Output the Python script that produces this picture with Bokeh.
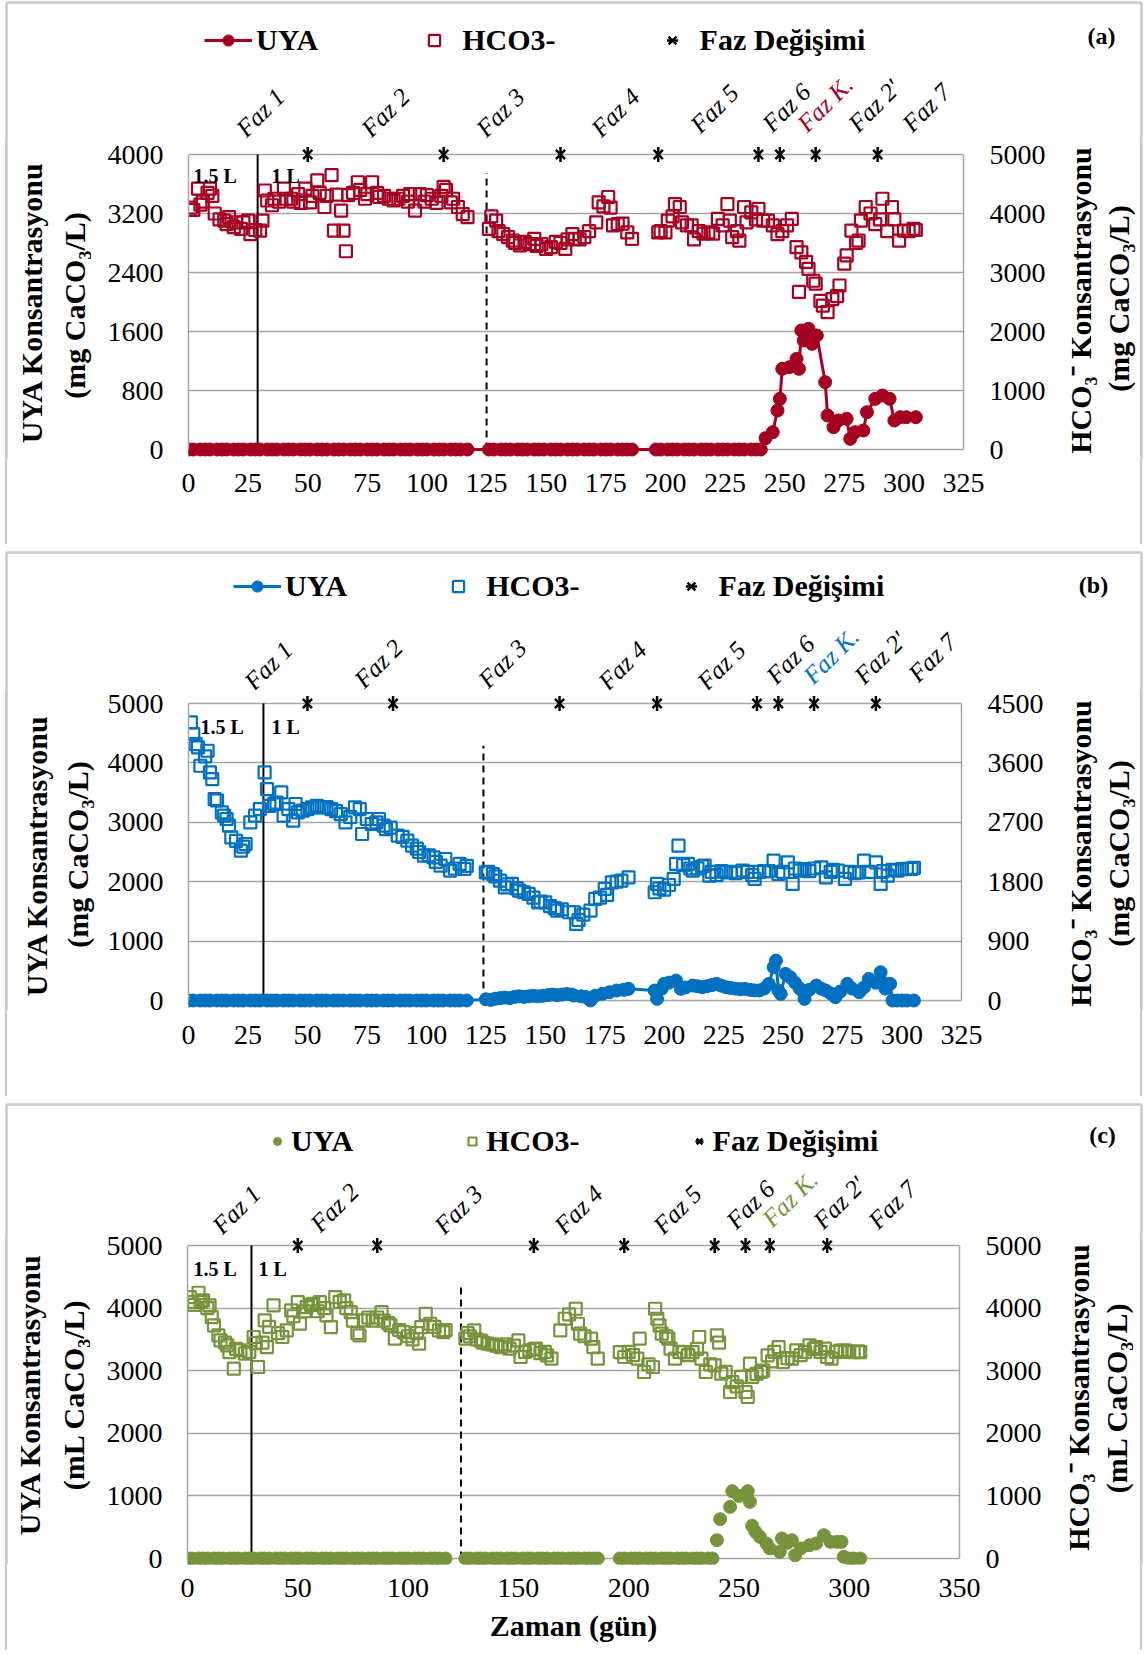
import math
from bokeh.plotting import figure
from bokeh.models import (Range1d, FixedTicker, Label, Legend, LegendItem,
                          ColumnDataSource, LinearAxis)
from bokeh.layouts import column, row
from bokeh.embed import file_html
from bokeh.resources import INLINE

SERIF = "Liberation Serif"

# ---------------------------------------------------------------- panel (a)
a_hco_day = [1, 2, 4, 5, 6, 8, 9, 10, 11, 13, 15, 16, 17, 19, 20, 22, 23, 25, 26, 28,
             30, 31, 32, 33, 35, 36, 38, 40, 41, 43, 44, 46, 47, 49, 51, 52, 54, 55, 57, 58,
             60, 61, 62, 64, 65, 66, 67, 69, 71, 72, 74, 75, 77, 79, 80, 82, 84, 86, 88, 90,
             92, 93, 95, 97, 99, 100, 102, 104, 106, 107, 108, 110, 111, 113, 115, 117,
             126, 127, 129, 130, 132, 134, 136, 137, 139, 141, 143, 145, 146, 148, 150, 152, 154, 156, 158, 159,
             161, 162, 164, 166, 168, 171, 172, 174, 176, 177, 178, 180, 182, 184, 186,
             197, 198, 200, 201, 203, 204, 206, 207, 209, 211, 212, 214, 216, 218, 220, 222, 224, 226, 227, 228,
             230, 231, 233, 234, 236, 238, 239, 241, 243, 245, 247, 249, 251, 253, 255, 256, 257, 259, 260, 262,
             263, 265, 266, 268, 270, 272, 273, 275, 276, 278, 280, 281, 282, 284, 286, 288, 290, 291, 293, 295,
             296, 298, 300, 302, 304, 305]
a_hco_val = [4100, 4060, 4420, 4150, 4200, 4350, 4420, 4300, 4000, 3900, 3880, 3820, 3940, 3770, 3850, 3740, 3850, 3880, 3650, 3720,
             3710, 3880, 4390, 4220, 4140, 4250, 4200, 4420, 4250, 4250, 4200, 4330, 4180, 4420, 4190, 4300, 4560, 4350, 4110, 4300,
             4650, 3710, 4320, 4050, 3710, 3360, 4310, 4350, 4530, 4400, 4250, 4330, 4530, 4350, 4280, 4300, 4250, 4220, 4250, 4300,
             4200, 4330, 4050, 4330, 4200, 4310, 4250, 4180, 4300, 4450, 4400, 4190, 4250, 4110, 3990, 3940,
             3740, 3950, 3880, 3700, 3650, 3600, 3540, 3500, 3460, 3520, 3480, 3570, 3450, 3480, 3400, 3430, 3520, 3500, 3400, 3560,
             3650, 3570, 3560, 3600, 3700, 3850, 4190, 4120, 4280, 4100, 3800, 3820, 3830, 3680, 3570,
             3680, 3700, 3680, 3880, 3950, 4160, 4110, 3850, 3800, 3800, 3560, 3700, 3660, 3680, 3660, 3910, 3800, 4160, 3880, 3600,
             3700, 3540, 4110, 3850, 4020, 3900, 4080, 3880, 3880, 3800, 3650, 3700, 3800, 3910, 3430, 2670, 3340, 3180, 3060, 2860,
             2810, 2520, 2440, 2330, 2550, 2600, 2780, 3150, 3290, 3710, 3500, 3540, 3880, 4110, 4000, 3820, 3900, 4250, 3700, 4110,
             3900, 3540, 3710, 3700, 3740, 3720]
a_uya_day = [0, 2, 5, 7, 9, 12, 14, 16, 19, 21, 23, 26, 28, 30, 33, 35, 37, 40, 42, 44,
             47, 49, 51, 54, 56, 58, 61, 63, 65, 68, 70, 72, 75, 77, 79, 82, 84, 86, 89, 91,
             93, 96, 98, 100, 103, 105, 107, 110, 112, 114, 117,
             126, 128, 131, 133, 135, 138, 140, 142, 145, 147, 149, 152, 154, 156, 159, 161, 163, 166, 168, 170,
             173, 175, 177, 180, 182, 184, 186,
             196, 198, 201, 203, 205, 208, 210, 212, 215, 217, 219, 222, 224, 226, 229, 231, 233, 236, 238, 240,
             242, 245, 247, 248, 249, 252, 255, 256, 257, 258, 260, 261.5, 263.5, 267, 268, 270.5, 272.5, 276, 277.5, 279.5,
             283, 284.5, 288, 291, 294, 296, 298.5, 301, 305]
a_uya_val = [0, 0, 0, 0, 0, 0, 0, 0, 0, 0, 0, 0, 0, 0, 0, 0, 0, 0, 0, 0,
             0, 0, 0, 0, 0, 0, 0, 0, 0, 0, 0, 0, 0, 0, 0, 0, 0, 0, 0, 0,
             0, 0, 0, 0, 0, 0, 0, 0, 0, 0, 0,
             0, 0, 0, 0, 0, 0, 0, 0, 0, 0, 0, 0, 0, 0, 0, 0, 0, 0, 0, 0,
             0, 0, 0, 0, 0, 0, 0,
             0, 0, 0, 0, 0, 0, 0, 0, 0, 0, 0, 0, 0, 0, 0, 0, 0, 0, 0, 0,
             154, 235, 529, 687, 1094, 1116, 1229, 1094, 1614, 1478, 1636, 1433, 1546, 913, 461, 303, 393, 416, 145, 235,
             258, 506, 687, 732, 687, 393, 438, 438, 438]
a_phase_change = [50, 107, 156, 197, 239, 248, 263, 289]
a_left_ticks = [0, 800, 1600, 2400, 3200, 4000]
a_right_ticks = [0, 1000, 2000, 3000, 4000, 5000]
a_x_ticks = [0, 25, 50, 75, 100, 125, 150, 175, 200, 225, 250, 275, 300, 325]

# ---------------------------------------------------------------- panel (b)
b_hco_day = [1, 2, 3, 4, 5, 7, 8, 9, 10, 11, 12, 14, 15, 16, 17, 18, 20, 22, 23, 24,
             26, 28, 30, 32, 33, 34, 36, 37, 39, 40, 42, 44, 45, 46, 48, 50, 52, 54, 56, 58,
             60, 62, 64, 66, 68, 70, 72, 73, 75, 77, 79, 80, 82, 83, 85, 88, 90, 92, 94, 96,
             97, 99, 101, 103, 104, 106, 108, 110, 112, 114, 116, 117,
             125, 126, 128, 129, 131, 133, 134, 136, 138, 139, 141, 143, 145, 147, 148, 150, 152, 154, 155, 157,
             160, 162, 163, 164, 166, 169, 171, 173, 175, 176, 178, 180, 182, 185,
             196, 197, 198, 200, 202, 204, 205, 206, 208, 210, 211, 212, 214, 216, 217, 219, 220, 222, 224, 226,
             228, 230, 233, 235, 237, 238, 240, 242, 244, 246, 248, 250, 252, 254, 255, 257, 259, 261, 263, 266,
             268, 270, 271, 273, 276, 278, 280, 282, 284, 286, 289, 291, 292, 294, 296, 298, 300, 302, 304, 305]
b_hco_val = [4213, 4036, 3885, 3834, 3557, 3700, 3784, 3456, 3355, 3052, 3030, 2851, 2800, 2750, 2649, 2472, 2420, 2270, 2330, 2371,
             2699, 2800, 2901, 3456, 3204, 2950, 2977, 3000, 3153, 2800, 2900, 2724, 2977, 2850, 2876, 2900, 2926, 2950, 2926, 2930,
             2901, 2870, 2825, 2699, 2780, 2926, 2901, 2523, 2750, 2674, 2700, 2750, 2650, 2598, 2620, 2497, 2480, 2422, 2346, 2300,
             2250, 2195, 2200, 2170, 2100, 2043, 2144, 1968, 2000, 2069, 1993, 2040,
             1942, 1950, 1917, 1880, 1816, 1715, 1760, 1766, 1700, 1665, 1640, 1615, 1560, 1488, 1500, 1488, 1430, 1400, 1362, 1380,
             1337, 1337, 1160, 1220, 1300, 1362, 1539, 1560, 1690, 1600, 1791, 1800, 1816, 1867,
             1640, 1766, 1700, 1680, 1750, 1842, 2069, 2346, 2050, 2069, 2000, 1968, 2000, 2030, 2043, 1892, 1950, 1900, 1960, 1942,
             1950, 1930, 1968, 1950, 1900, 1842, 1950, 1960, 1960, 2119, 1917, 1950, 2094, 1766, 2000, 1968, 1990, 1960, 2000, 2018,
             1867, 1950, 1980, 1968, 1842, 1950, 1930, 1942, 2119, 1950, 2094, 1766, 1960, 1892, 1980, 1968, 1990, 1993, 1993, 2010]
b_uya_day = [0, 2, 5, 7, 9, 12, 14, 16, 19, 21, 23, 26, 28, 30, 33, 35, 37, 40, 42, 44,
             47, 49, 51, 54, 56, 58, 61, 63, 65, 68, 70, 72, 75, 77, 79, 82, 84, 86, 89, 91,
             93, 96, 98, 100, 103, 105, 107, 110, 112, 114, 117,
             125, 127, 129, 131, 133, 135, 137, 139, 141, 143, 145, 147, 149, 151, 153, 155, 157, 159, 161, 162,
             165, 167, 169, 171, 174, 177, 180, 183, 185,
             196, 197, 199, 200, 202, 205, 207, 209, 212, 214, 216, 218, 220, 222, 224, 226, 228, 230, 232, 234,
             236, 238, 240, 242, 244, 246, 247, 248, 249, 251, 253, 255, 257, 258, 259, 261, 264, 266, 268, 270,
             272, 274, 277, 279, 282, 284, 286, 289, 291, 292, 293, 295, 296, 298, 300, 302, 305]
b_uya_val = [0, 0, 0, 0, 0, 0, 0, 0, 0, 0, 0, 0, 0, 0, 0, 0, 0, 0, 0, 0,
             0, 0, 0, 0, 0, 0, 0, 0, 0, 0, 0, 0, 0, 0, 0, 0, 0, 0, 0, 0,
             0, 0, 0, 0, 0, 0, 0, 0, 0, 0, 0,
             20, 10, 30, 40, 50, 40, 60, 70, 60, 70, 80, 70, 80, 90, 100, 90, 100, 110, 100, 84,
             70, 60, 0, 80, 112, 140, 168, 180, 196,
             168, 28, 200, 280, 300, 336, 196, 220, 252, 240, 224, 240, 260, 280, 250, 224, 210, 200, 190, 196,
             180, 170, 168, 200, 280, 560, 672, 168, 110, 448, 392, 300, 200, 168, 28, 180, 252, 200, 168, 120,
             56, 150, 280, 200, 140, 220, 364, 300, 476, 300, 200, 280, 0, 0, 0, 0, 0]
b_phase_change = [50, 86, 156, 197, 239, 248, 263, 289]
b_left_ticks = [0, 1000, 2000, 3000, 4000, 5000]
b_right_ticks = [0, 900, 1800, 2700, 3600, 4500]
b_x_ticks = [0, 25, 50, 75, 100, 125, 150, 175, 200, 225, 250, 275, 300, 325]

# ---------------------------------------------------------------- panel (c)
c_hco_day = [1, 2, 3, 5, 6, 7, 9, 10, 11, 12, 14, 15, 17, 18, 19, 21, 22, 24, 26, 28,
             30, 31, 32, 34, 35, 36, 37, 39, 41, 43, 45, 47, 48, 50, 51, 53, 54, 56, 57, 59,
             60, 62, 63, 65, 67, 69, 71, 72, 74, 75, 77, 78, 80, 82, 84, 86, 88, 89, 91, 92,
             94, 96, 98, 100, 102, 104, 105, 106, 108, 110, 112, 114, 116, 117,
             126, 127, 128, 130, 131, 133, 134, 136, 138, 140, 142, 144, 146, 148, 150, 151, 153, 155, 157, 158,
             160, 162, 163, 165,
             169, 171, 173, 176, 177, 178, 180, 183, 184, 186,
             196, 198, 200, 202, 204, 205, 207, 209, 211, 212, 213, 214, 215, 217, 218, 219, 221, 223, 225, 227,
             229, 231, 232, 233, 235, 237, 239, 240, 241, 242, 244, 246, 247, 249, 251, 253, 254, 255, 256, 258,
             260, 261, 263, 265, 266, 268, 270, 272, 274, 276, 278, 280, 282, 284, 285, 287, 289, 290, 292, 294,
             296, 298, 300, 302, 304, 305]
c_hco_val = [4176, 4100, 4050, 4245, 4100, 4123, 4000, 4043, 3857, 3724, 3564, 3484, 3450, 3405, 3298, 3032, 3350, 3325, 3272, 3300,
             3538, 3440, 3059, 3450, 3804, 3378, 3700, 4043, 3600, 3538, 3644, 3963, 3870, 4096, 3751, 3950, 4016, 4050, 4069, 3950,
             4096, 4000, 3883, 3697, 4176, 4100, 4123, 4000, 3937, 3800, 3600, 3564, 3804, 3850, 3800, 3850, 3937, 3800, 3760, 3724,
             3511, 3650, 3617, 3550, 3500, 3600, 3431, 3697, 3910, 3750, 3700, 3644, 3617, 3650,
             3511, 3600, 3550, 3644, 3500, 3480, 3450, 3431, 3420, 3400, 3378, 3420, 3352, 3400, 3484, 3219, 3300, 3325, 3340, 3352,
             3280, 3300, 3245, 3192,
             3644, 3830, 3900, 3990, 3750, 3591, 3550, 3511, 3378, 3192,
             3298, 3219, 3300, 3250, 3192, 3511, 2979, 3100, 3059, 3990, 3830, 3724, 3591, 3550, 3511, 3352, 3192, 3300, 3298, 3250,
             3298, 3350, 3538, 3192, 2979, 3100, 3086, 3564, 3450, 2953, 2980, 2660, 2819, 2750, 2900, 2660, 2580, 3112, 2900, 2950,
             2979, 3000, 3245, 3150, 3300, 3378, 3139, 3200, 3192, 3325, 3250, 3300, 3405, 3350, 3378, 3300, 3352, 3219, 3192, 3300,
             3320, 3325, 3300, 3298, 3310, 3298]
c_uya_day = [0, 2, 5, 7, 9, 12, 14, 16, 19, 21, 23, 26, 28, 30, 33, 35, 37, 40, 42, 44,
             47, 49, 51, 54, 56, 58, 61, 63, 65, 68, 70, 72, 75, 77, 79, 82, 84, 86, 89, 91,
             93, 96, 98, 100, 103, 105, 107, 110, 112, 114, 117,
             126, 128, 131, 133, 135, 138, 140, 142, 145, 147, 149, 152, 154, 156, 159, 161, 163, 166, 168, 170,
             173, 175, 177, 180, 182, 184, 186,
             196, 198, 201, 203, 205, 208, 210, 212, 215, 217, 219, 222, 224, 226, 229, 231, 233, 236, 238,
             240, 241.5, 246, 247, 250, 254, 255, 256, 257.5, 259.5, 262.5, 264, 268.5, 269.5, 272, 274, 275.5, 278, 282, 285,
             288.5, 291.5, 294.5, 296.5, 297.5, 300, 302, 305]
c_uya_val = [0, 0, 0, 0, 0, 0, 0, 0, 0, 0, 0, 0, 0, 0, 0, 0, 0, 0, 0, 0,
             0, 0, 0, 0, 0, 0, 0, 0, 0, 0, 0, 0, 0, 0, 0, 0, 0, 0, 0, 0,
             0, 0, 0, 0, 0, 0, 0, 0, 0, 0, 0,
             0, 0, 0, 0, 0, 0, 0, 0, 0, 0, 0, 0, 0, 0, 0, 0, 0, 0, 0, 0,
             0, 0, 0, 0, 0, 0, 0,
             0, 0, 0, 0, 0, 0, 0, 0, 0, 0, 0, 0, 0, 0, 0, 0, 0, 0, 0,
             293, 628, 825, 1075, 1000, 1075, 905, 522, 426, 346, 240, 160, 107, 320, 250, 293, 53, 160, 213, 240,
             373, 266, 266, 266, 27, 0, 0, 0]
c_phase_change = [50, 86, 157, 198, 239, 253, 264, 290]
c_left_ticks = [0, 1000, 2000, 3000, 4000, 5000]
c_right_ticks = [0, 1000, 2000, 3000, 4000, 5000]
c_x_ticks = [0, 50, 100, 150, 200, 250, 300, 350]

phase_names = ["Faz 1", "Faz 2", "Faz 3", "Faz 4", "Faz 5", "Faz 6", "Faz K.", "Faz 2\u2032", "Faz 7"]
legend_labels = ["UYA", "HCO3-", "Faz De\u011fi\u015fimi"]
x_title = "Zaman (g\u00fcn)"

GRID = "#A6A6A6"
FRAME = "#C8C8C8"
PAGE_W = 1144
LEFT_W, MAIN_W, RIGHT_W = 98, 957, 89
MAIN_X0 = LEFT_W                 # page x of main figure
RIGHT_X0 = LEFT_W + MAIN_W       # page x of right figure


def add_label(p, text, cx, cy, size, style="normal", angle=0, align="left",
              baseline="alphabetic", color="black"):
    p.add_layout(Label(x=cx, y=cy, x_units="canvas", y_units="canvas", text=text,
                       text_font=SERIF, text_font_size="%dpx" % size,
                       text_font_style=style, angle=angle, angle_units="deg",
                       text_align=align, text_baseline=baseline, text_color=color))


def blank_fig(w, h, transparent=False, styles=None):
    kw = {} if styles is None else {"styles": styles}
    p = figure(width=w, height=h, output_backend="svg", toolbar_location=None,
               x_axis_location=None, y_axis_location=None,
               x_range=Range1d(0, 1), y_range=Range1d(0, 1),
               min_border_left=0, min_border_right=0, min_border_top=0, min_border_bottom=0, **kw)
    p.outline_line_color = None
    p.xgrid.visible = False
    p.ygrid.visible = False
    if transparent:
        p.background_fill_color = None
        p.border_fill_color = None
    else:
        p.background_fill_color = "white"
        p.border_fill_color = "white"
    return p


def frame_lines(p, w, h, segs):
    # panel frame lines, given in canvas pixels of this blank figure
    p.segment(x0=[s[0] / w for s in segs], y0=[1 - s[1] / h for s in segs],
              x1=[s[2] / w for s in segs], y1=[1 - s[3] / h for s in segs],
              line_color=FRAME, line_width=2.5)


def vline_css(xpos):
    return {"background": "linear-gradient(to right, rgba(255,255,255,0) %.1fpx, %s %.1fpx, "
                          "%s %.1fpx, rgba(255,255,255,0) %.1fpx)"
                          % (xpos - 1.25, FRAME, xpos - 1.25, FRAME, xpos + 1.25, xpos + 1.25)}


def marker_glyphs(p, col, uya_line, src_u, src_h, src_p, yname=None):
    kw = {} if yname is None else {"y_range_name": yname}
    sq = p.scatter("x", "y", source=src_h, marker="square", size=12,
                   line_color=col, fill_color=None, line_width=2.2, **kw)
    uya_r = []
    if uya_line:
        uya_r.append(p.line("x", "y", source=src_u, line_color=col, line_width=3))
    uya_r.append(p.scatter("x", "y", source=src_u, marker="circle", size=13,
                           fill_color=col, line_color=col))
    m1 = p.scatter("x", "y", source=src_p, marker="x", size=13, line_color="black", line_width=2.5)
    m2 = p.scatter("x", "y", source=src_p, marker="dash", angle=math.pi / 2, size=15,
                   line_color="black", line_width=2.5)
    return uya_r, sq, [m1, m2]


def make_panel(cfg):
    T0, P, S, B = cfg["T0"], cfg["P"], cfg["S"], cfg["B"]
    HM = P - S - B
    mtop = T0 + S                       # page y of the main figure canvas
    L = cfg["L"] - MAIN_X0
    R = cfg["R"] - MAIN_X0
    Yt, Yb = cfg["Yt"] - mtop, cfg["Yb"] - mtop
    Fb = Yb + cfg["ext"]
    ymax, rmax, xmax = cfg["ymax"], cfg["rmax"], cfg["xmax"]
    span = float(Yb - Yt)

    def vy(cy):
        return ymax * (Yb - cy) / span

    col = cfg["color"]
    p = figure(width=MAIN_W, height=HM, output_backend="svg", toolbar_location=None,
               x_range=Range1d(0, xmax), y_range=Range1d(vy(Fb), vy(0)),
               min_border_left=L, min_border_right=MAIN_W - R,
               min_border_top=0, min_border_bottom=HM - Fb)
    p.extra_y_ranges = {"r": Range1d(rmax * (Yb - Fb) / span, rmax * Yb / span)}
    p.outline_line_color = None
    p.background_fill_color = "white"
    p.border_fill_color = "white"

    def style(ax, ticks, standoff):
        ax.ticker = FixedTicker(ticks=ticks)
        ax.major_tick_line_color = None
        ax.minor_tick_line_color = None
        ax.major_tick_out = 0
        ax.major_tick_in = 0
        ax.minor_tick_out = 0
        ax.major_label_text_font = SERIF
        ax.major_label_text_font_size = "28px"
        ax.major_label_text_color = "#000000"
        ax.major_label_standoff = standoff
        ax.axis_line_color = GRID
        ax.axis_line_width = 1.5

    xa = p.xaxis[0]
    style(xa, cfg["xticks"], cfg["xstand"])
    xa.axis_line_color = None
    if cfg.get("xtitle"):
        xa.axis_label = x_title
        xa.axis_label_text_font = SERIF
        xa.axis_label_text_font_style = "bold"
        xa.axis_label_text_font_size = "30px"
        xa.axis_label_text_color = "black"
        xa.axis_label_standoff = 9
    ya = p.yaxis[0]
    style(ya, cfg["lticks"], 25)
    ya.bounds = (0, ymax)
    ra = LinearAxis(y_range_name="r")
    style(ra, cfg["rticks"], 26)
    ra.bounds = (0, rmax)
    p.add_layout(ra, "right")

    p.xgrid.visible = False
    p.ygrid[0].ticker = FixedTicker(ticks=cfg["lticks"])
    p.ygrid.grid_line_color = GRID
    p.ygrid.grid_line_width = 1.5

    # phase boundaries
    p.segment(x0=[cfg["solid"]], y0=[0], x1=[cfg["solid"]], y1=[ymax],
              line_color="black", line_width=2)
    p.segment(x0=[cfg["dash"]], y0=[0], x1=[cfg["dash"]], y1=[cfg["dash_top"]],
              line_color="black", line_width=2, line_dash="7 5")

    # series
    hs = ColumnDataSource(dict(x=cfg["hco_day"], y=cfg["hco_val"]))
    us = ColumnDataSource(dict(x=cfg["uya_day"], y=cfg["uya_val"]))
    ph = cfg["phase"]
    ps = ColumnDataSource(dict(x=ph, y=[ymax for _ in ph]))
    marker_glyphs(p, col, cfg["uya_line"], us, hs, ps, yname="r")

    add_label(p, "1.5 L", cfg["v15"][0] - MAIN_X0, cfg["v15"][1] - mtop, 20, "bold")
    add_label(p, "1 L", cfg["v1"][0] - MAIN_X0, cfg["v1"][1] - mtop, 20, "bold")

    # ---- top strip (full width): legend, rotated phase names, panel tag
    st = blank_fig(PAGE_W, S)
    off = dict(x=[-5], y=[-5])          # legend swatches only, outside the visible range
    lu, lh, lp = marker_glyphs(st, col, cfg["uya_line"], ColumnDataSource(dict(off)),
                               ColumnDataSource(dict(off)), ColumnDataSource(dict(off)))
    leg = Legend(items=[LegendItem(label=legend_labels[0], renderers=lu),
                        LegendItem(label=legend_labels[1], renderers=[lh]),
                        LegendItem(label=legend_labels[2], renderers=lp)],
                 location=(cfg["leg_xy"][0], S - (cfg["leg_xy"][1] - T0)),
                 orientation="horizontal",
                 glyph_width=cfg["gw"], glyph_height=28, label_standoff=4,
                 spacing=cfg["sp"], padding=0, margin=0,
                 border_line_color=None, background_fill_alpha=0,
                 label_text_font=SERIF, label_text_font_style="bold",
                 label_text_font_size="30px", label_text_color="black")
    st.add_layout(leg)
    for name, (px, py) in zip(phase_names, cfg["faz_pos"]):
        c = col if name == "Faz K." else "black"
        add_label(st, name, px, py - T0, 25, "italic", angle=45, color=c)
    add_label(st, cfg["tag"], cfg["tag_xy"][0], cfg["tag_xy"][1] - T0, 24, "bold",
              align="center", baseline="middle")
    frame_lines(st, PAGE_W, S, [(6, 2, 1141, 2), (6, 2, 6, S), (1141, 2, 1141, S)])

    # ---- side figures with axis titles (frame edge drawn as CSS background)
    unit_txt = "(%s CaCO\u2083/L)" % cfg["unit"]
    lf = blank_fig(LEFT_W, HM, transparent=True, styles=vline_css(6))
    add_label(lf, "UYA Konsantrasyonu", cfg["lt1"][0], cfg["lt1"][1] - mtop, 30, "bold",
              angle=90, align="center", baseline="middle")
    add_label(lf, unit_txt, cfg["lt2"][0], cfg["lt2"][1] - mtop, 30, "bold",
              angle=90, align="center", baseline="middle")
    frame_lines(lf, LEFT_W, HM, [(6, 0, 6, HM)])
    rx = 1141 - RIGHT_X0
    rf = blank_fig(RIGHT_W, HM, transparent=True, styles=vline_css(rx))
    add_label(rf, "HCO\u2083\u207b Konsantrasyonu", cfg["rt1"][0] - RIGHT_X0, cfg["rt1"][1] - mtop,
              30, "bold", angle=90, align="center", baseline="middle")
    add_label(rf, unit_txt, cfg["rt2"][0] - RIGHT_X0, cfg["rt2"][1] - mtop, 30, "bold",
              angle=90, align="center", baseline="middle")
    frame_lines(rf, RIGHT_W, HM, [(rx, 0, rx, HM)])

    # ---- bottom strip: lower edge of the panel frame
    bt = blank_fig(PAGE_W, B)
    frame_lines(bt, PAGE_W, B, [(6, 0, 6, B - 2), (1141, 0, 1141, B - 2), (6, B - 2, 1141, B - 2)])

    return [st, row(lf, p, rf, spacing=0), bt]


A = dict(T0=0, P=550, S=140, B=6, L=188, R=963, Yt=154, Yb=449, ext=10, xmax=325, ymax=4000, rmax=5000,
         xticks=a_x_ticks, lticks=a_left_ticks, rticks=a_right_ticks, xstand=14,
         color="#A50021", uya_line=True, unit="mg",
         hco_day=a_hco_day, hco_val=a_hco_val, uya_day=a_uya_day, uya_val=a_uya_val,
         phase=a_phase_change, solid=29, dash=125, dash_top=3750,
         leg_xy=(204, 57), gw=48, sp=92, tag="(a)", tag_xy=(1101, 35),
         faz_pos=[(240, 132), (365, 132), (480, 132), (595, 132), (694, 128),
                  (766, 127), (801, 127), (852, 127), (906, 127)],
         v15=(193, 175), v1=(271, 175),
         lt1=(31, 302), lt2=(74, 305), rt1=(1080, 300), rt2=(1118, 298))

B_ = dict(T0=550, P=552, S=140, B=6, L=188, R=961, Yt=703, Yb=1000, ext=10, xmax=325, ymax=5000, rmax=4500,
          xticks=b_x_ticks, lticks=b_left_ticks, rticks=b_right_ticks, xstand=15,
          color="#0070C0", uya_line=True, unit="mg",
          hco_day=b_hco_day, hco_val=b_hco_val, uya_day=b_uya_day, uya_val=b_uya_val,
          phase=b_phase_change, solid=31.5, dash=124, dash_top=4290,
          leg_xy=(233, 603), gw=48, sp=87, tag="(b)", tag_xy=(1093, 584),
          faz_pos=[(248, 685), (358, 683), (482, 683), (602, 685), (701, 685),
                   (770, 679), (807, 679), (858, 679), (912, 677)],
          v15=(200, 726), v1=(271, 726),
          lt1=(36, 855), lt2=(77, 854), rt1=(1080, 853), rt2=(1118, 853))

C = dict(T0=1102, P=552, S=134, B=4, L=187, R=959, Yt=1245, Yb=1558, ext=6, xmax=350, ymax=5000, rmax=5000,
         xticks=c_x_ticks, lticks=c_left_ticks, rticks=c_right_ticks, xstand=14,
         color="#77933C", uya_line=False, unit="mL",
         hco_day=c_hco_day, hco_val=c_hco_val, uya_day=c_uya_day, uya_val=c_uya_val,
         phase=c_phase_change, solid=29, dash=124, dash_top=4400,
         leg_xy=(267, 1158), gw=20, sp=109, tag="(c)", tag_xy=(1102, 1134),
         faz_pos=[(216, 1229), (314, 1227), (438, 1229), (558, 1229), (657, 1229),
                  (730, 1224), (766, 1222), (817, 1224), (872, 1224)],
         v15=(193, 1268), v1=(258, 1268),
         lt1=(29, 1394), lt2=(73, 1394), rt1=(1078, 1397), rt2=(1116, 1397),
         xtitle=True)

children = make_panel(A) + make_panel(B_) + make_panel(C)
layout = column(*children, spacing=0)
open("out.html", "w").write(file_html(layout, INLINE))
